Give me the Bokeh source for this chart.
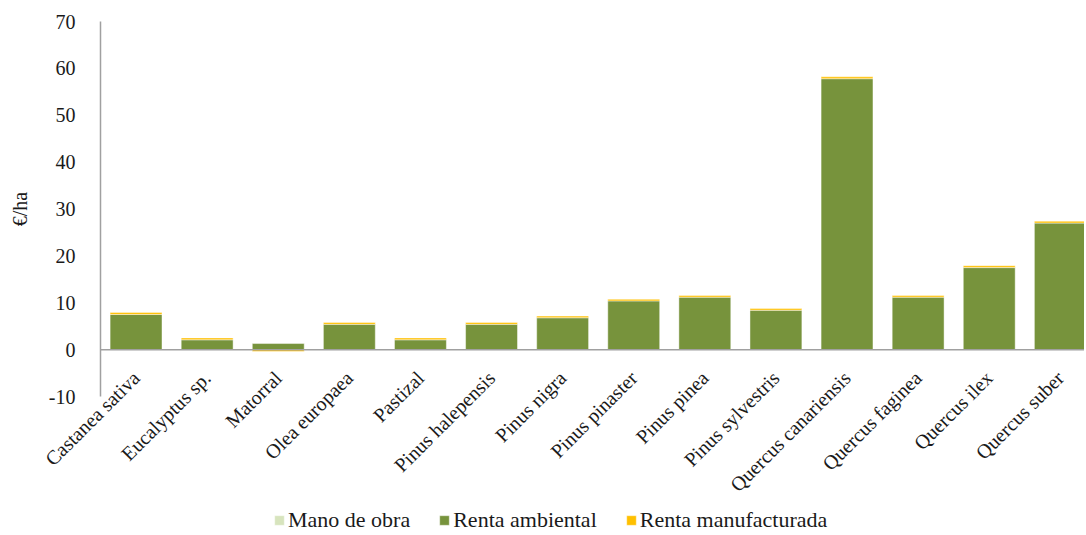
import math
from bokeh.plotting import figure
from bokeh.layouts import column
from bokeh.models import Range1d, FixedTicker, Span, Legend, LegendItem
from bokeh.embed import file_html
from bokeh.resources import INLINE

categories = ["Castanea sativa", "Eucalyptus sp.", "Matorral", "Olea europaea", "Pastizal",
              "Pinus halepensis", "Pinus nigra", "Pinus pinaster", "Pinus pinea",
              "Pinus sylvestris", "Quercus canariensis", "Quercus faginea", "Quercus ilex",
              "Quercus suber"]
mano_de_obra = [0.0, 0.0, 0.0, 0.0, 0.0, 0.0, 0.0, 0.0, 0.0, 0.0, 0.0, 0.0, 0.0, 0.0]
renta_ambiental = [7.5, 2.1, 1.3, 5.4, 2.1, 5.4, 6.8, 10.4, 11.2, 8.4, 57.8, 11.2, 17.5, 27.0]
renta_manufacturada = [0.4, 0.4, -0.4, 0.4, 0.4, 0.4, 0.35, 0.35, 0.35, 0.35, 0.4, 0.35, 0.4, 0.4]
y_ticks = [-10, 0, 10, 20, 30, 40, 50, 60, 70]

series = [("Mano de obra", mano_de_obra, "#d7e4bd"),
          ("Renta ambiental", renta_ambiental, "#77933c"),
          ("Renta manufacturada", renta_manufacturada, "#ffc000")]

FONT = "Liberation Serif"
TXT = "#1a1a1a"

p = figure(width=1084, height=508, output_backend="svg", toolbar_location=None,
           x_range=Range1d(-0.5, 13.34), y_range=Range1d(-10, 70),
           min_border_left=100, min_border_right=0, min_border_top=21, min_border_bottom=112)
p.outline_line_color = None
p.xgrid.visible = False
p.ygrid.visible = False

xs = list(range(len(categories)))
pos_base = [0.0] * len(categories)
neg_base = [0.0] * len(categories)
for name, vals, color in series:
    tops, bottoms = [], []
    for i, v in enumerate(vals):
        if v >= 0:
            bottoms.append(pos_base[i]); tops.append(pos_base[i] + v); pos_base[i] += v
        else:
            tops.append(neg_base[i]); bottoms.append(neg_base[i] + v); neg_base[i] += v
    p.vbar(x=xs, top=tops, bottom=bottoms, width=0.73, fill_color=color,
           line_color="white", line_alpha=0.45, line_width=1)

p.add_layout(Span(location=0, dimension="width", line_color="#a0a0a0", line_width=1.5))

# y axis
ya = p.yaxis[0]
ya.ticker = FixedTicker(ticks=y_ticks)
ya.major_label_overrides = {t: str(t) for t in y_ticks}
ya.axis_line_color = "#a0a0a0"
ya.axis_line_width = 1.5
ya.major_tick_line_color = None
ya.minor_tick_line_color = None
ya.major_label_standoff = 19
ya.major_label_text_font = FONT
ya.major_label_text_font_size = "20px"
ya.major_label_text_color = TXT
ya.axis_label = "€/ha"
ya.axis_label_text_font = FONT
ya.axis_label_text_font_size = "20px"
ya.axis_label_text_font_style = "normal"
ya.axis_label_text_color = TXT
ya.axis_label_standoff = 15

# x axis
xa = p.xaxis[0]
xa.ticker = FixedTicker(ticks=xs)
xa.major_label_overrides = {i: c for i, c in enumerate(categories)}
xa.major_label_orientation = math.pi / 4
xa.axis_line_color = None
xa.major_tick_line_color = None
xa.minor_tick_line_color = None
xa.major_label_standoff = -28
xa.major_label_text_font = FONT
xa.major_label_text_font_size = "20px"
xa.major_label_text_color = TXT

# legend strip
pl = figure(width=1084, height=25, output_backend="svg", toolbar_location=None,
            x_axis_location=None, y_axis_location=None,
            x_range=Range1d(0, 1), y_range=Range1d(0, 1),
            min_border=0)
pl.outline_line_color = None
pl.xgrid.visible = False
pl.ygrid.visible = False
items = []
for name, vals, color in series:
    r = pl.vbar(x=[5], top=[-1], bottom=[-2], width=0.5, fill_color=color,
                line_color="white", line_alpha=0.45)
    items.append(LegendItem(label=name, renderers=[r]))
legend = Legend(items=items, location=(173, 0), orientation="horizontal",
                border_line_color=None, background_fill_alpha=0,
                padding=0, margin=0, spacing=28, label_standoff=3,
                glyph_width=12, glyph_height=12,
                label_text_font=FONT, label_text_font_size="22px", label_text_color=TXT)
pl.add_layout(legend)

open("out.html", "w").write(file_html(column(p, pl, spacing=0), INLINE))
